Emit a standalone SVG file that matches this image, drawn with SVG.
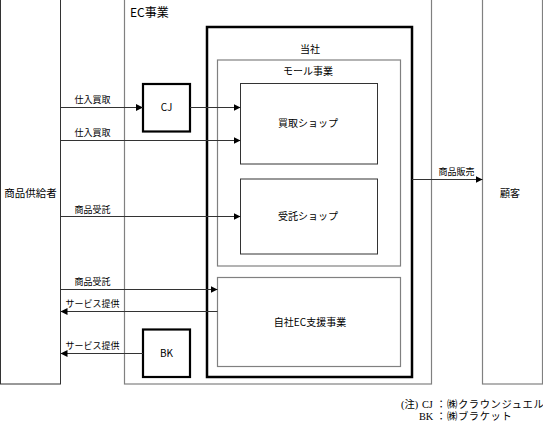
<svg xmlns="http://www.w3.org/2000/svg" width="543" height="423" viewBox="0 0 543 423">
<style>
  .lt { fill: none; stroke: #808080; stroke-width: 1.2; }
  .dk { fill: none; stroke: #333; stroke-width: 1; }
  .bold { fill: none; stroke: #000; stroke-width: 2.5; }
  .conn { stroke: #333; stroke-width: 1; fill: none; marker-end: url(#ah); }
  text { font-family: "Noto Sans CJK JP", "Liberation Sans", sans-serif; fill: #000; text-anchor: middle; }
  .lbl { font-size: 9px; }
  .node { font-size: 10px; }
  .note { font-family: "Liberation Serif", "Noto Sans CJK JP", serif; font-size: 10.3px; text-anchor: start; }
  .ks { letter-spacing: 0.6px; }
</style>
<defs>
  <marker id="ah" viewBox="0 0 10 10" refX="10" refY="5" markerWidth="7" markerHeight="7" markerUnits="userSpaceOnUse" orient="auto">
    <path d="M0,0 L10,5 L0,10 z" fill="#000"/>
  </marker>
</defs>
<rect width="543" height="423" fill="#fff"/>

<g id="supplier">
  <rect x="0.5" y="-1" width="60" height="385" class="dk"/>
  <text x="30.5" y="197" style="font-size:10.5px">商品供給者</text>
</g>
<g id="ec">
  <rect x="124.5" y="-1" width="307" height="385" class="lt"/>
  <text x="130" y="17" style="font-size:12px;text-anchor:start">EC事業</text>
</g>
<g id="customer">
  <rect x="482.5" y="-1" width="60" height="385" class="lt"/>
  <text x="510" y="197" class="node">顧客</text>
</g>
<g id="company">
  <rect x="207" y="27" width="205" height="350" class="bold"/>
  <text x="310" y="53" class="node">当社</text>
</g>
<g id="mall">
  <rect x="217.5" y="60" width="183" height="206" class="lt"/>
  <text x="308" y="75" class="node">モール事業</text>
</g>
<g id="buyshop">
  <rect x="240.5" y="83.5" width="137" height="80.5" class="dk"/>
  <text x="308" y="127" class="node">買取ショップ</text>
</g>
<g id="consignshop">
  <rect x="240.5" y="179" width="137" height="75" class="dk"/>
  <text x="308" y="220" class="node">受託ショップ</text>
</g>
<g id="ecsupport">
  <rect x="217.5" y="277.5" width="183" height="89" class="lt"/>
  <text x="310" y="326" class="node">自社EC支援事業</text>
</g>
<g id="cj">
  <rect x="143" y="84" width="47" height="47.5" class="bold" style="stroke-width:2.2"/>
  <text x="166.5" y="111" class="node">CJ</text>
</g>
<g id="bk">
  <rect x="143" y="329.5" width="47" height="47.5" class="bold" style="stroke-width:2.2"/>
  <text x="166.5" y="357" class="node">BK</text>
</g>

<g id="connectors">
  <line x1="60.5" y1="107.5" x2="143" y2="107.5" class="conn"/>
  <line x1="190" y1="107.5" x2="240.5" y2="107.5" class="conn"/>
  <line x1="60.5" y1="140.5" x2="240.5" y2="140.5" class="conn"/>
  <line x1="60.5" y1="216.5" x2="240.5" y2="216.5" class="conn"/>
  <line x1="60.5" y1="289.5" x2="217.5" y2="289.5" class="conn"/>
  <line x1="217.5" y1="311.5" x2="60.5" y2="311.5" class="conn"/>
  <line x1="143" y1="353.5" x2="60.5" y2="353.5" class="conn"/>
  <line x1="412" y1="179.5" x2="482.5" y2="179.5" class="conn"/>
  <text x="92.5" y="103" class="lbl">仕入買取</text>
  <text x="92.5" y="136" class="lbl">仕入買取</text>
  <text x="92.5" y="212.5" class="lbl">商品受託</text>
  <text x="92.5" y="284.5" class="lbl">商品受託</text>
  <text x="92.5" y="307" class="lbl">サービス提供</text>
  <text x="92.5" y="348.5" class="lbl">サービス提供</text>
  <text x="456.5" y="174.5" class="lbl">商品販売</text>
</g>

<g id="note">
  <text y="408" class="note"><tspan x="401">(注)</tspan><tspan x="422">CJ</tspan><tspan x="436">：</tspan><tspan x="447" class="ks">㈱クラウンジュエル</tspan></text>
  <text y="419.5" class="note"><tspan x="419">BK</tspan><tspan x="436">：</tspan><tspan x="447" class="ks">㈱ブラケット</tspan></text>
</g>
</svg>
